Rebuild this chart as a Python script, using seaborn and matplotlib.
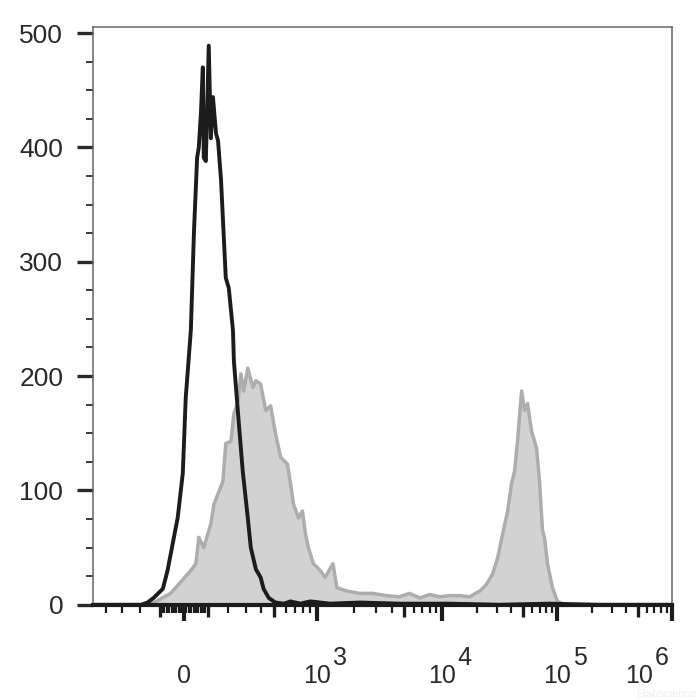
import numpy as np
import seaborn as sns
import matplotlib.pyplot as plt
from matplotlib import transforms

# --- data (fluorescence intensity, cell counts) ---
ctrl_x = [-500, -195, -160, -130, -87, -67, -46, -25, -4, 8, 29, 42, 55, 62, 71, 79, 83, 92,
          105, 115, 125, 140, 150, 165, 190, 206, 228, 233, 256, 283, 313, 331, 363, 394, 415,
          454, 508, 578, 644, 763, 900, 1270, 2210, 4600, 11700, 31600, 85000, 230000, 1000000]
ctrl_count = [0, 0, 2, 6, 14, 30, 53, 76, 115, 181, 240, 327, 391, 400, 430, 470, 391, 388,
              489, 408, 444, 412, 406, 372, 286, 277, 240, 213, 167, 117, 76, 50, 31, 24, 14,
              6, 2, 1, 3, 1, 3, 1, 2, 1, 1, 0, 1, 0, 0]

stain_x = [-150, -54, 0, 29, 50, 62, 83, 115, 130, 175, 190, 217, 233, 256, 272, 289, 313, 344,
           363, 394, 431, 469, 508, 550, 611, 644, 678, 738, 788, 829, 871, 943, 1057, 1159,
           1343, 1445, 1738, 2208, 2805, 3631, 4600, 5500, 6700, 8000, 9600, 11700, 14300,
           17500, 19500, 21300, 24400, 27500, 30400, 33600, 37100, 40100, 42600, 45200, 49000,
           52000, 55100, 59700, 66000, 70000, 74300, 77300, 82000, 90600, 100000, 110000, 130000]
stain_count = [0, 10, 23, 30, 36, 59, 50, 71, 88, 108, 141, 143, 167, 178, 202, 187, 207, 190,
               196, 193, 170, 174, 150, 129, 123, 106, 88, 76, 82, 62, 50, 36, 30, 24,
               36, 15, 12, 10, 10, 8, 7, 10, 6, 9, 7, 8, 8,
               7, 10, 12, 18, 27, 41, 62, 82, 106, 117, 143, 187,
               170, 176, 152, 137, 108, 65, 59, 36, 15, 3, 1, 0]

decades = [0, 1e3, 1e4, 1e5, 1e6]
decade_labels = ['0', '10', '10', '10', '10']
decade_exp = ['', '3', '4', '5', '6']
mid_ticks = [-100, 100, 500, 5e3, 5e4, 5e5]

# biexponential-like scale: intensity anchors and relative screen positions
anchor_vals = [0, 100, 200, 300, 400, 500, 600, 700, 800, 900, 1e3, 1e4, 1e5, 1e6]
anchor_pos = [0, 24, 44, 62, 78, 91, 103, 112, 120, 127, 134, 259, 375, 490]
W = 270.0
anchor_u = np.arcsinh(np.array(anchor_vals) / W)


def fwd(x):
    x = np.asarray(x, dtype=float)
    return np.sign(x) * np.interp(np.arcsinh(np.abs(x) / W), anchor_u, anchor_pos)


def inv(p):
    p = np.asarray(p, dtype=float)
    return np.sign(p) * W * np.sinh(np.interp(np.abs(p), anchor_pos, anchor_u))


if __name__ == "__main__":
    sns.set_style('white')
    plt.rcParams['font.family'] = ['Liberation Sans', 'DejaVu Sans']

    fig = plt.figure(figsize=(7, 7), dpi=100)
    ax = fig.add_axes([0.133, 0.136, 0.827, 0.825])
    ax.set_xscale('function', functions=(fwd, inv))

    # --- filled gray histogram, then black control line on top ---
    ax.fill_between(stain_x, stain_count, 0, color='#d2d2d2', lw=0, zorder=1)
    sns.lineplot(x=stain_x, y=stain_count, color='#adadad', lw=2.5, ax=ax, zorder=2)
    sns.lineplot(x=ctrl_x, y=ctrl_count, color='#1c1c1c', lw=2.8, ax=ax, zorder=3)

    ax.set_xlim(-500, 1e6)
    ax.set_ylim(0, 505)
    ax.set_xlabel('')
    ax.set_ylabel('')

    # --- spines ---
    for s in ['left', 'top', 'right']:
        ax.spines[s].set_color('#666666')
        ax.spines[s].set_linewidth(1.1)
    ax.spines['bottom'].set_color('#1c1c1c')
    ax.spines['bottom'].set_linewidth(3)
    ax.spines['bottom'].set_zorder(4)

    # --- y axis ---
    ax.set_yticks([0, 100, 200, 300, 400, 500])
    ax.set_yticks(np.arange(0, 501, 25), minor=True)
    ax.tick_params(axis='y', which='major', direction='out', length=11.5, width=2.4,
                   pad=10, labelsize=19, colors='#2a2a2a', left=True)
    ax.tick_params(axis='y', which='minor', direction='out', length=5, width=1.3,
                   colors='#2a2a2a', left=True)

    # --- x axis ticks (decades long, x5 medium, others short) ---
    minor = [-400, -300, -200] + list(range(-90, 0, 10)) + list(range(10, 100, 10))
    minor += [200, 300, 400, 600, 700, 800, 900]
    for base in [1e3, 1e4, 1e5]:
        minor += [k * base for k in [2, 3, 4, 6, 7, 8, 9]]
    xt = decades + mid_ticks + minor
    ax.set_xticks(xt)
    ax.set_xticklabels([''] * len(xt))
    ax.tick_params(axis='x', which='major', direction='out', bottom=True, colors='#1c1c1c', pad=0)
    ax.xaxis.set_minor_locator(plt.NullLocator())
    for tick, v in zip(ax.xaxis.get_major_ticks(), xt):
        if v in decades:
            ln, wd = 11.5, 3.0
        elif v in mid_ticks:
            ln, wd = 8.5, 2.4
        else:
            ln, wd = 5.5, 1.6
        tick.tick1line.set_markersize(ln)
        tick.tick1line.set_markeredgewidth(wd)

    # --- x tick labels written as text: 0, 10^3 ... 10^6 ---
    base_tr = transforms.blended_transform_factory(ax.transData, ax.transAxes)
    for v, lab, ex in zip(decades, decade_labels, decade_exp):
        shift = -33 if v == 1e6 else 0
        tr = transforms.offset_copy(base_tr, fig=fig, x=shift, y=0, units='dots')
        ax.text(v, -0.135, lab, transform=tr, ha='center', va='baseline',
                fontsize=18, color='#2a2a2a', clip_on=False)
        if ex:
            tr2 = transforms.offset_copy(base_tr, fig=fig, x=shift + 16, y=0, units='dots')
            ax.text(v, -0.104, ex, transform=tr2, ha='left', va='baseline',
                    fontsize=18, color='#2a2a2a', clip_on=False)

    # faint watermark
    fig.text(0.995, 0.002, 'Elabscience', fontsize=8, color='#efefef', ha='right', va='bottom')

    plt.savefig('out.png', dpi=100)
